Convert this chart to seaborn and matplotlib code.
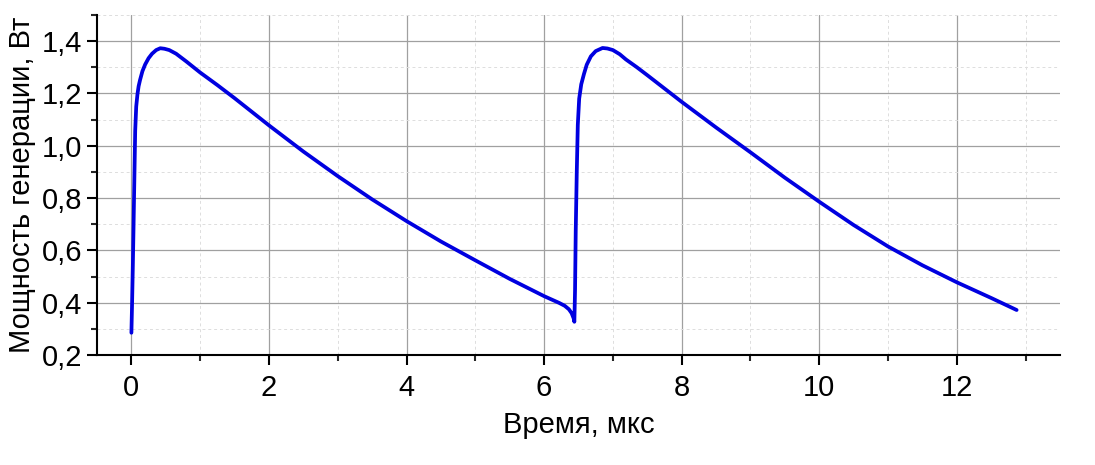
import matplotlib
matplotlib.use("Agg")
import matplotlib.pyplot as plt
import seaborn as sns
from matplotlib.ticker import MultipleLocator, FuncFormatter

# time, us
time_us = [0.0, 0.01, 0.02, 0.03, 0.04, 0.055, 0.07, 0.088, 0.105, 0.126, 0.16,
           0.2, 0.25, 0.3, 0.36, 0.42, 0.48, 0.55, 0.65, 0.8, 1.0, 1.25,
           1.5, 2.0, 2.5, 3.0, 3.5, 4.0, 4.5, 5.0, 5.5, 6.0, 6.22, 6.3, 6.36,
           6.4, 6.43, 6.44, 6.45, 6.46, 6.475, 6.49, 6.51, 6.54, 6.58, 6.62, 6.68,
           6.75, 6.85, 6.92, 7.0, 7.1, 7.19, 7.35, 7.5, 8.0, 8.5, 9.0, 9.5, 10.0, 10.5,
           11.0, 11.5, 12.0, 12.5, 12.87]
# generation power, W
power_w = [0.285, 0.40, 0.53, 0.676, 0.83, 1.057, 1.15, 1.197, 1.228, 1.252, 1.285,
           1.311, 1.335, 1.352, 1.366, 1.373, 1.371, 1.366, 1.352, 1.322, 1.28, 1.232,
           1.182, 1.078, 0.978, 0.884, 0.795, 0.712, 0.634, 0.562, 0.491, 0.425, 0.399, 0.388, 0.375,
           0.36, 0.34, 0.327, 0.45, 0.676, 0.9, 1.08, 1.18, 1.235, 1.275, 1.31, 1.342,
           1.362, 1.374, 1.372, 1.366, 1.350, 1.33, 1.30, 1.27, 1.168, 1.07, 0.975, 0.878, 0.786, 0.697,
           0.615, 0.543, 0.478, 0.418, 0.372]

sns.set_style("white")
plt.rcParams['font.family'] = ['Liberation Sans', 'DejaVu Sans']
plt.rcParams['text.color'] = 'black'
plt.rcParams['axes.labelcolor'] = 'black'

fig = plt.figure(figsize=(10.95, 4.65), dpi=100)
ax = fig.add_axes([0.0886, 0.2366, 0.8794, 0.7311])

sns.lineplot(x=time_us, y=power_w, ax=ax, color="#0000e0", linewidth=2.7,
             sort=False, estimator=None)

ax.set_xlim(-0.5, 13.5)
ax.set_ylim(0.2, 1.5)
ax.xaxis.set_major_locator(MultipleLocator(2))
ax.xaxis.set_minor_locator(MultipleLocator(1))
ax.yaxis.set_major_locator(MultipleLocator(0.2))
ax.yaxis.set_minor_locator(MultipleLocator(0.1))
ax.yaxis.set_major_formatter(FuncFormatter(lambda v, p: f"{v:.1f}".replace('.', ',')))

ax.grid(which='major', color='#a0a0a0', linewidth=0.9, linestyle='-')
ax.grid(which='minor', color='#dddddd', linewidth=0.7, linestyle=(0, (3, 3)))
ax.set_axisbelow(True)

for side in ['top', 'right']:
    ax.spines[side].set_visible(False)
for side in ['left', 'bottom']:
    ax.spines[side].set_color('black')
    ax.spines[side].set_linewidth(1.5)

ax.tick_params(which='major', direction='out', length=7, width=1.5, labelsize=21,
               left=True, bottom=True, colors='black')
ax.tick_params(axis='x', which='major', pad=7)
ax.tick_params(which='minor', direction='out', length=4, width=1.5, left=True, bottom=True)

ax.set_xlabel("Время, мкс", fontsize=21, labelpad=6)
ax.set_ylabel("Мощность генерации, Вт", fontsize=21, labelpad=4)

fig.savefig("out.png", dpi=100)
